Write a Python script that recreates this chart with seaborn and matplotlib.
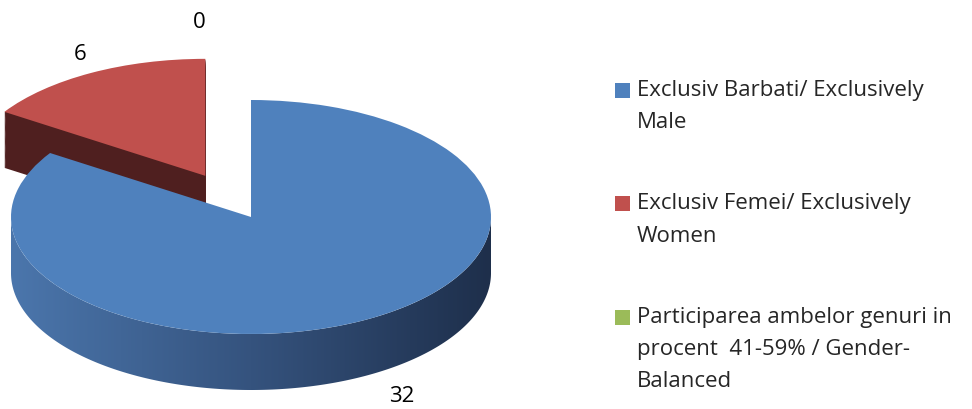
import numpy as np
import matplotlib
matplotlib.use("Agg")
import matplotlib.pyplot as plt
import seaborn as sns
from matplotlib.patches import Rectangle, PathPatch, Patch
from matplotlib.path import Path
from matplotlib.colors import LinearSegmentedColormap
from matplotlib.legend_handler import HandlerPatch
from matplotlib.font_manager import FontProperties

# ---------------- data ----------------
categories = [
    "Exclusiv Barbati/ Exclusively\nMale",
    "Exclusiv Femei/ Exclusively\nWomen",
    "Participarea ambelor genuri in\nprocent  41-59% / Gender-\nBalanced",
]
values = [32, 6, 0]
value_labels = ["32", "6", "0"]
explode = [0.0, 0.40, 0.0]

# ---------------- style / layout ----------------
sns.set_theme(style="white")
FONT = ['Open Sans', 'DejaVu Sans']
plt.rcParams['font.family'] = FONT

TOP_COLORS = ["#4F81BD", "#C0504D", "#9BBB59"]
SIDE_RED = "#4F1F1F"
SIDE_BLUE = ["#4B76AC", "#35537E", "#1E2F4B"]
W, H = 972, 410
CX, CY, RX, RY, DEPTH = 251, 218, 240, 117, 56
FS = 16
LINE_PX = 31
ITEM_PX = 112
LABEL_POS = [(402, 397), (80, 55), (199, 23)]

fig = plt.figure(figsize=(W / 100, H / 100), dpi=100)
ax = fig.add_axes([0, 0, 1, 1])
d = DEPTH / RY

# red slice side walls (extrusion by stacking)
n_layers = 60
for k in range(n_layers, 0, -1):
    off = d * k / n_layers
    ax.pie(values, colors=['none', SIDE_RED, 'none'], explode=explode,
           startangle=90, counterclock=False, center=(0, -off),
           wedgeprops=dict(linewidth=0, zorder=1))

# top faces
tops, _ = ax.pie(values, colors=TOP_COLORS, explode=explode, startangle=90,
                 counterclock=False, wedgeprops=dict(linewidth=0, zorder=3))

# blue slice front wall with horizontal gradient
w = tops[0]
cx0, cy0 = w.center
r = w.r
lo, hi = max(w.theta1, -180), min(w.theta2, 0)
t = np.radians(np.linspace(lo, hi, 300))
top_arc = np.column_stack([cx0 + r * np.cos(t), cy0 + r * np.sin(t)])
bot_arc = top_arc[::-1] - np.array([0, d])
verts = np.vstack([top_arc, bot_arc, top_arc[:1]])
path = Path(verts, closed=True)
clip = PathPatch(path, facecolor='none', edgecolor='none', transform=ax.transData)
ax.add_patch(clip)
cmap = LinearSegmentedColormap.from_list("side", SIDE_BLUE)
grad = np.linspace(0, 1, 256)[None, :]
im = ax.imshow(grad, extent=(cx0 - r, cx0 + r, cy0 - r - d, cy0), aspect='auto',
               cmap=cmap, zorder=2, origin='lower', interpolation='bicubic')
im.set_clip_path(clip)

ax.set_aspect('auto')
ax.set_xlim((0 - CX) / RX, (W - CX) / RX)
ax.set_ylim((CY - H) / RY, CY / RY)
ax.axis('off')

# value labels
for (px, py), s in zip(LABEL_POS, value_labels):
    fig.text(px / W, 1 - py / H, s, ha='center', va='center', fontsize=FS, color='black')

# legend
renderer = fig.canvas.get_renderer()
fp = FontProperties(family=FONT, size=FS)
lw_, lh_, ld_ = renderer.get_text_width_height_descent("lp", fp, ismath=False)
linesp = 0.88 * LINE_PX / (lh_ - ld_)
fs_px = FS * 100 / 72
labelsp = (ITEM_PX - LINE_PX - lh_) / fs_px

handles = [Patch(facecolor=c, edgecolor='none') for c in TOP_COLORS]
for h_, lab in zip(handles, categories):
    h_.nlines = lab.count('\n') + 1


class TopSquare(HandlerPatch):
    def create_artists(self, legend, orig_handle, xdescent, ydescent, width, height,
                       fontsize, trans):
        shift = (orig_handle.nlines - 1) / 2 * LINE_PX * 72 / 100
        p = Rectangle((-xdescent, -ydescent + shift), width, height)
        self.update_prop(p, orig_handle, legend)
        p.set_transform(trans)
        return [p]


leg = fig.legend(handles, categories, loc='upper left',
                 bbox_to_anchor=(615 / W, 1 - 80 / H), frameon=False, fontsize=FS,
                 handlelength=0.68, handleheight=0.68, handletextpad=0.3,
                 labelspacing=labelsp, borderpad=0, borderaxespad=0,
                 handler_map={Patch: TopSquare()})
for tx in leg.get_texts():
    tx.set_linespacing(linesp)

fig.savefig("out.png", dpi=100)
